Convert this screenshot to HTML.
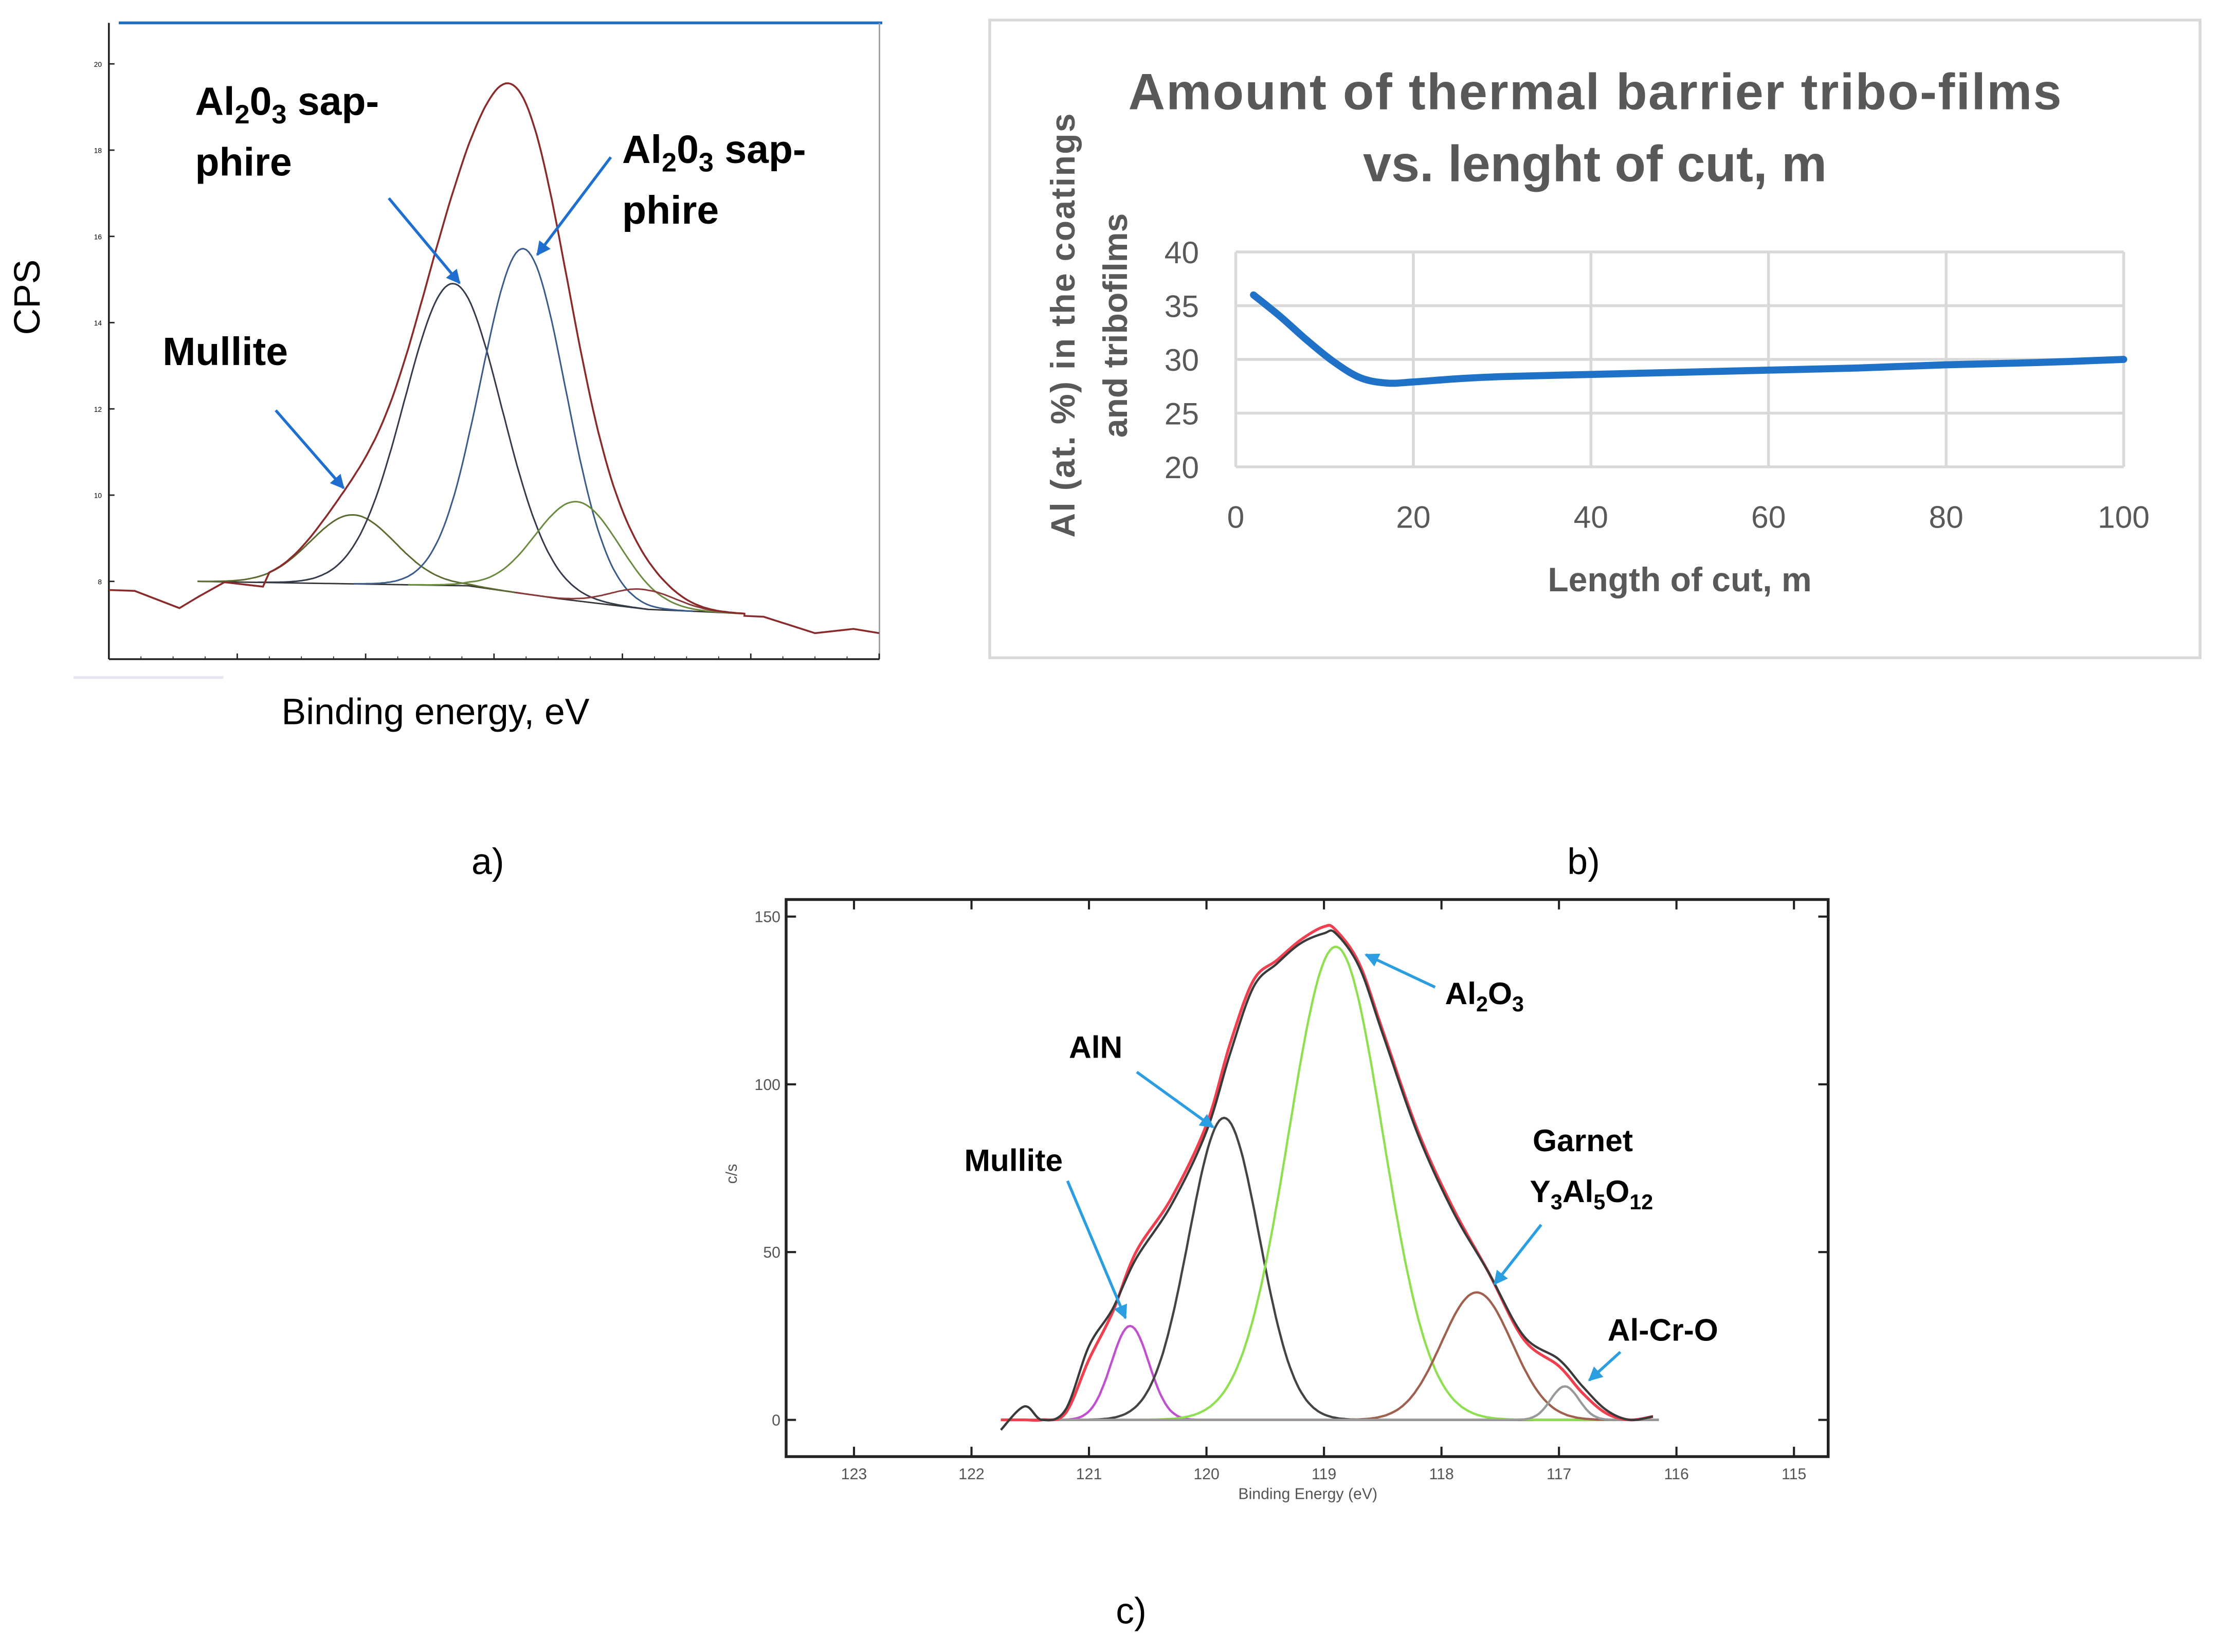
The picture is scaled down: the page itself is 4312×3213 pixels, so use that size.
<!DOCTYPE html>
<html><head><meta charset="utf-8"><style>
html,body{margin:0;padding:0;background:#fff}
svg{display:block}
text{font-family:"Liberation Sans",sans-serif}
</style></head><body>
<svg id="s" width="4312" height="3213" viewBox="0 0 1568 1168" xmlns="http://www.w3.org/2000/svg">
<defs>
<marker id="ab" viewBox="0 0 10 10" refX="9" refY="5" markerWidth="5" markerHeight="5" orient="auto"><path d="M0,0L10,5L0,10z" fill="#1f6fd0"/></marker>
<marker id="ac" viewBox="0 0 10 10" refX="9" refY="5" markerWidth="5" markerHeight="5" orient="auto"><path d="M0,0L10,5L0,10z" fill="#2a9ee0"/></marker>
</defs>
<g>
<line x1="84" y1="16" x2="624" y2="16" stroke="#1f6fc5" stroke-width="2"/>
<line x1="622" y1="16" x2="622" y2="466" stroke="#999" stroke-width="1"/>
<line x1="77" y1="16" x2="77" y2="466" stroke="#222" stroke-width="1.3"/>
<line x1="77" y1="466" x2="622" y2="466" stroke="#222" stroke-width="1.3"/>
<rect x="52" y="478" width="106" height="2" fill="#e6e6f2"/>
<g id="aTicks"></g>
<g id="aCurves"></g>
<text x="28" y="210" font-size="26" text-anchor="middle" transform="rotate(-90 28 210)">CPS</text>
<text x="308" y="512" font-size="26" text-anchor="middle">Binding energy, eV</text>
<text x="138" y="81" font-size="28" font-weight="bold">Al<tspan font-size="19" dy="6">2</tspan><tspan dy="-6">0</tspan><tspan font-size="19" dy="6">3</tspan><tspan dy="-6"> sap-</tspan></text>
<text x="138" y="124" font-size="28" font-weight="bold">phire</text>
<text x="440" y="115" font-size="28" font-weight="bold">Al<tspan font-size="19" dy="6">2</tspan><tspan dy="-6">0</tspan><tspan font-size="19" dy="6">3</tspan><tspan dy="-6"> sap-</tspan></text>
<text x="440" y="158" font-size="28" font-weight="bold">phire</text>
<text x="115" y="258" font-size="28" font-weight="bold">Mullite</text>
<line x1="275" y1="140" x2="325" y2="200" stroke="#1f6fd0" stroke-width="2" marker-end="url(#ab)"/>
<line x1="432" y1="111" x2="380" y2="180" stroke="#1f6fd0" stroke-width="2" marker-end="url(#ab)"/>
<line x1="195" y1="290" x2="243" y2="345" stroke="#1f6fd0" stroke-width="2" marker-end="url(#ab)"/>
<text x="345" y="618" font-size="26" text-anchor="middle">a)</text>
</g>
<g>
<rect x="700" y="14" width="856" height="451" fill="#fff" stroke="#d9d9d9" stroke-width="2"/>
<text x="1128" y="77" font-size="36" font-weight="bold" fill="#595959" text-anchor="middle" textLength="660">Amount of thermal barrier tribo-films</text>
<text x="1128" y="128" font-size="36" font-weight="bold" fill="#595959" text-anchor="middle">vs. lenght of cut, m</text>
<g id="bGrid"></g>
<text x="1188" y="418" font-size="24" font-weight="bold" fill="#595959" text-anchor="middle">Length of cut, m</text>
<text transform="translate(760 230) rotate(-90)" font-size="24" font-weight="bold" fill="#595959" text-anchor="middle" textLength="300">Al (at. %) in the coatings</text>
<text transform="translate(797 230) rotate(-90)" font-size="24" font-weight="bold" fill="#595959" text-anchor="middle">and tribofilms</text>
<text x="1120" y="618" font-size="26" text-anchor="middle">b)</text>
</g>
<g>
<rect x="556" y="636" width="737" height="394" fill="none" stroke="#222" stroke-width="2"/>
<g id="cTicks"></g>
<g id="cCurves"></g>
<text x="925" y="1060" font-size="11" fill="#555" text-anchor="middle">Binding Energy (eV)</text>
<text transform="translate(521 830) rotate(-90)" font-size="11" fill="#555" text-anchor="middle">c/s</text>
<text x="1022" y="710" font-size="22" font-weight="bold">Al<tspan font-size="15" dy="5">2</tspan><tspan dy="-5">O</tspan><tspan font-size="15" dy="5">3</tspan></text>
<text x="756" y="748" font-size="22" font-weight="bold">AlN</text>
<text x="682" y="828" font-size="22" font-weight="bold">Mullite</text>
<text x="1084" y="814" font-size="22" font-weight="bold">Garnet</text>
<text x="1082" y="850" font-size="22" font-weight="bold">Y<tspan font-size="15" dy="5">3</tspan><tspan dy="-5">Al</tspan><tspan font-size="15" dy="5">5</tspan><tspan dy="-5">O</tspan><tspan font-size="15" dy="5">12</tspan></text>
<text x="1137" y="948" font-size="22" font-weight="bold">Al-Cr-O</text>
<line x1="1015" y1="698" x2="966" y2="675" stroke="#2a9ee0" stroke-width="2" marker-end="url(#ac)"/>
<line x1="804" y1="758" x2="858" y2="797" stroke="#2a9ee0" stroke-width="2" marker-end="url(#ac)"/>
<line x1="755" y1="835" x2="796" y2="932" stroke="#2a9ee0" stroke-width="2" marker-end="url(#ac)"/>
<line x1="1090" y1="866" x2="1057" y2="908" stroke="#2a9ee0" stroke-width="2" marker-end="url(#ac)"/>
<line x1="1146" y1="956" x2="1124" y2="976" stroke="#2a9ee0" stroke-width="2" marker-end="url(#ac)"/>
<text x="800" y="1148" font-size="26" text-anchor="middle">c)</text>
</g>
</svg>
<script>
const aYTicks=[8,10,12,14,16,18,20];
const aXTicks=[0,1,2,3,4,5,6];
const aPeakCenters=[1.90,2.68,3.23,3.65,4.16];
const aPeakHeights=[1.6,7.0,8.0,2.3,0.45];
const aPeakSigmas=[0.33,0.38,0.33,0.33,0.25];
const aPeakColors=["#5a6a30","#333a4a","#3a5a8a","#6a8a40","#8a3a3a"];
const aBaseX=[0.69,2.8,3.5,4.2,4.6,4.95];
const aBaseY=[8.0,7.9,7.6,7.35,7.3,7.25];
const aTailLX=[-0.1,0.0,0.2,0.55,0.7,0.9,1.2];
const aTailLY=[7.6,7.8,7.78,7.38,7.65,7.98,7.88];
const aTailRX=[4.95,5.1,5.5,5.8,6.0];
const aTailRY=[7.2,7.18,6.8,6.9,6.8];
const bX=[2,5,8,11,14,17,20,25,30,40,50,60,70,80,90,100];
const bY=[36,34,31.8,29.8,28.3,27.8,27.9,28.2,28.4,28.6,28.8,29,29.2,29.5,29.7,30];
const bXTicks=[0,20,40,60,80,100];
const bYTicks=[20,25,30,35,40];
const cXTicks=[123,122,121,120,119,118,117,116,115];
const cYTicks=[0,50,100,150];
const cPeakCenters=[120.65,119.85,118.9,117.7,116.95];
const cPeakHeights=[28,90,141,38,10];
const cPeakSigmas=[0.16,0.3,0.4,0.3,0.12];
const cPeakColors=["#c050d0","#444","#8ee050","#a06050","#999"];
const cEnvX=[121.75,121.55,121.4,121.2,121.0,120.8,120.6,120.3,120.0,119.8,119.6,119.4,119.2,119.0,118.9,118.7,118.5,118.2,117.9,117.6,117.3,117.0,116.8,116.6,116.4,116.2];
const cRedY=[0,0,0,2,18,32,50,66,88,112,131,137,143,147,146,136,116,86,63,44,24,16,8,2,0,1];
const cDarkY=[-3,4,0,3,22,33,48,64,86,109,129,136,142,145,145,135,115,85,62,44,25,18,10,3,0,1];

const NS="http://www.w3.org/2000/svg";
function mk(tag,attrs,parent){const e=document.createElementNS(NS,tag);for(const k in attrs)e.setAttribute(k,attrs[k]);parent.appendChild(e);return e;}
function gauss(x,c,h,s){return h*Math.exp(-((x-c)*(x-c))/(2*s*s));}
function interp(xs,ys,x){if(x<=xs[0])return ys[0];for(let i=1;i<xs.length;i++){if(x<=xs[i]){const t=(x-xs[i-1])/(xs[i]-xs[i-1]);return ys[i-1]+t*(ys[i]-ys[i-1]);}}return ys[ys.length-1];}
function pathFrom(pts){return 'M'+pts.map(p=>p[0].toFixed(1)+','+p[1].toFixed(1)).join('L');}

const aSx=v=>77+v*90.8, aSy=v=>45+(20-v)*30.5;
const aT=document.getElementById('aTicks');
aYTicks.forEach(v=>{mk('line',{x1:77,x2:81,y1:aSy(v),y2:aSy(v),stroke:'#222'},aT);const t=mk('text',{x:72,y:aSy(v)+2,'font-size':5,'text-anchor':'end'},aT);t.textContent=v;

});
aXTicks.forEach(v=>{mk('line',{x1:aSx(v),x2:aSx(v),y1:466,y2:462,stroke:'#222'},aT);});
for(let v=0;v<6;v+=0.25)mk('line',{x1:aSx(v),x2:aSx(v),y1:466,y2:464,stroke:'#222','stroke-width':0.6},aT);
const aC=document.getElementById('aCurves');
const aBase=x=>interp(aBaseX,aBaseY,x);
const bsl=mk('path',{d:pathFrom(aBaseX.map((x,i)=>[aSx(x),aSy(aBaseY[i])])),fill:'none',stroke:'#333','stroke-width':1},aC);


aPeakCenters.forEach((c,i)=>{const pts=[];const x0=Math.max(aBaseX[0],c-4*aPeakSigmas[i]),x1=Math.min(4.95,c+4*aPeakSigmas[i]);
for(let x=x0;x<=x1;x+=0.02)pts.push([aSx(x),aSy(aBase(x)+gauss(x,c,aPeakHeights[i],aPeakSigmas[i]))]);
const p=mk('path',{d:pathFrom(pts),fill:'none',stroke:aPeakColors[i],'stroke-width':1.1},aC);

});
const env=[];aTailLX.forEach((x,i)=>env.push([aSx(x),aSy(aTailLY[i])]));
for(let x=1.25;x<=4.95;x+=0.02){let s=aBase(x);aPeakCenters.forEach((c,i)=>s+=gauss(x,c,aPeakHeights[i],aPeakSigmas[i]));env.push([aSx(x),aSy(s)]);}
aTailRX.forEach((x,i)=>env.push([aSx(x),aSy(aTailRY[i])]));
const ep=mk('path',{d:pathFrom(env.filter(p=>p[0]>=70&&p[0]<=622)),fill:'none',stroke:'#8b2a2a','stroke-width':1.3},aC);



const bSx=v=>874+v*6.28, bSy=v=>330-(v-20)*7.6;
const bG=document.getElementById('bGrid');
bYTicks.forEach(v=>{mk('line',{x1:874,x2:1502,y1:bSy(v),y2:bSy(v),stroke:'#d9d9d9','stroke-width':2},bG);const t=mk('text',{x:848,y:bSy(v)+8,'font-size':22,fill:'#595959','text-anchor':'end'},bG);t.textContent=v;

});
bXTicks.forEach(v=>{mk('line',{x1:bSx(v),x2:bSx(v),y1:178,y2:330,stroke:'#d9d9d9','stroke-width':2},bG);const t=mk('text',{x:bSx(v),y:373,'font-size':22,fill:'#595959','text-anchor':'middle'},bG);t.textContent=v;

});
const bp=bX.map((x,i)=>[bSx(x),bSy(bY[i])]);
let d='M'+bp[0][0]+','+bp[0][1];
for(let i=0;i<bp.length-1;i++){const p0=bp[Math.max(0,i-1)],p1=bp[i],p2=bp[i+1],p3=bp[Math.min(bp.length-1,i+2)];
d+=` C${p1[0]+(p2[0]-p0[0])/6},${p1[1]+(p2[1]-p0[1])/6} ${p2[0]-(p3[0]-p1[0])/6},${p2[1]-(p3[1]-p1[1])/6} ${p2[0]},${p2[1]}`;}
const bl=mk('path',{d:d,fill:'none',stroke:'#2072c8','stroke-width':5,'stroke-linecap':'round'},bG);



const cSx=v=>604+(123-v)*83.1, cSy=v=>1004-v*2.373;
const cT=document.getElementById('cTicks');
cXTicks.forEach(v=>{mk('line',{x1:cSx(v),x2:cSx(v),y1:1030,y2:1023,stroke:'#222','stroke-width':1.5},cT);mk('line',{x1:cSx(v),x2:cSx(v),y1:636,y2:643,stroke:'#222','stroke-width':1.5},cT);
const t=mk('text',{x:cSx(v),y:1046,'font-size':11,fill:'#555','text-anchor':'middle'},cT);t.textContent=v;

});
cYTicks.forEach(v=>{mk('line',{x1:556,x2:563,y1:cSy(v),y2:cSy(v),stroke:'#222','stroke-width':1.5},cT);mk('line',{x1:1293,x2:1286,y1:cSy(v),y2:cSy(v),stroke:'#222','stroke-width':1.5},cT);
const t=mk('text',{x:552,y:cSy(v)+4,'font-size':11,fill:'#555','text-anchor':'end'},cT);t.textContent=v;

});
const cC=document.getElementById('cCurves');
mk('line',{x1:cSx(121.75),x2:cSx(116.15),y1:cSy(0),y2:cSy(0),stroke:'#b040c0','stroke-width':1.5},cC);
cPeakCenters.forEach((c,i)=>{const pts=[];for(let x=121.75;x>=116.15;x-=0.02)pts.push([cSx(x),cSy(gauss(x,c,cPeakHeights[i],cPeakSigmas[i]))]);
const p=mk('path',{d:pathFrom(pts),fill:'none',stroke:cPeakColors[i],'stroke-width':1.6},cC);

});
function smooth(xs,ys){const p=xs.map((x,i)=>[cSx(x),cSy(ys[i])]);let d='M'+p[0][0]+','+p[0][1];
for(let i=0;i<p.length-1;i++){const p0=p[Math.max(0,i-1)],p1=p[i],p2=p[i+1],p3=p[Math.min(p.length-1,i+2)];
d+=` C${p1[0]+(p2[0]-p0[0])/6},${p1[1]+(p2[1]-p0[1])/6} ${p2[0]-(p3[0]-p1[0])/6},${p2[1]-(p3[1]-p1[1])/6} ${p2[0]},${p2[1]}`;}return d;}
const r=mk('path',{d:smooth(cEnvX,cRedY),fill:'none',stroke:'#f04050','stroke-width':2},cC);


const k=mk('path',{d:smooth(cEnvX,cDarkY),fill:'none',stroke:'#3a3a3a','stroke-width':1.6},cC);


</script>
</body></html>
